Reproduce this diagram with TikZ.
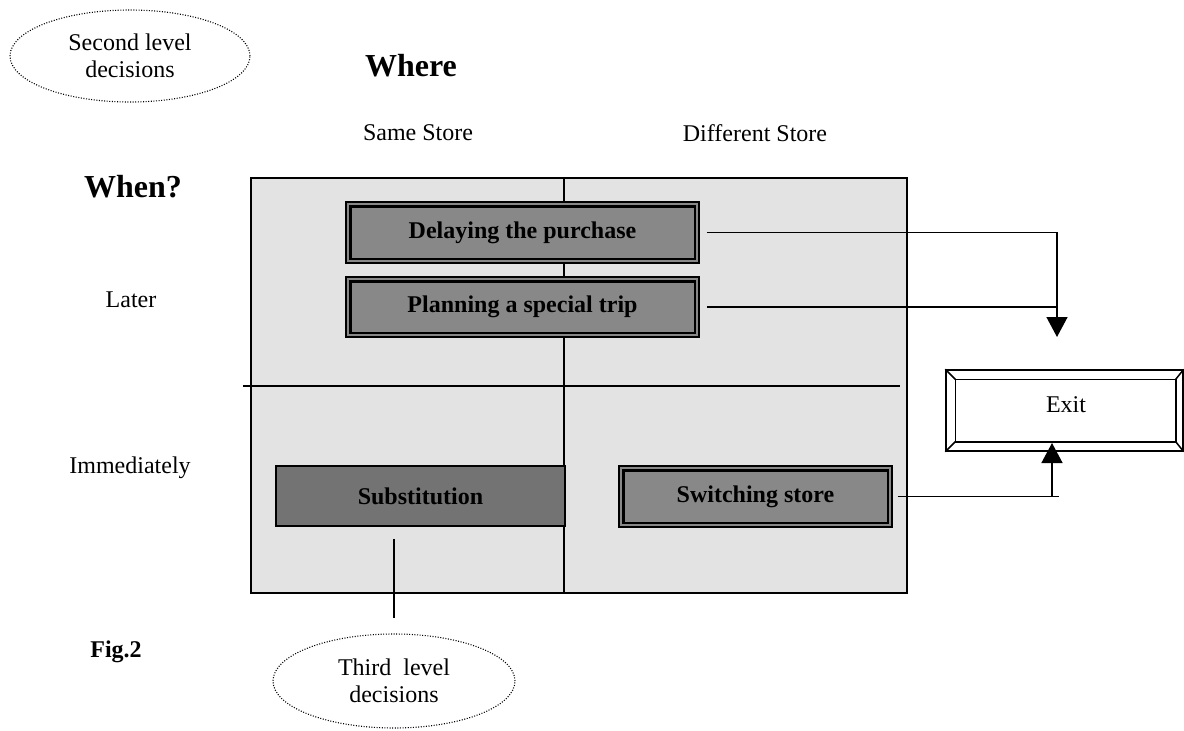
\documentclass[tikz,border=0pt]{standalone}
\usepackage{fontspec}
\setmainfont{Liberation Serif}
\usetikzlibrary{arrows.meta,shapes.geometric}
\definecolor{panelgray}{HTML}{E3E3E3}
\definecolor{boxgray}{HTML}{888888}
\definecolor{darkbox}{HTML}{737373}

\begin{document}
\begin{tikzpicture}[x=1pt,y=-1pt,
  txt/.style={font=\fontsize{24}{27}\selectfont, inner sep=0, align=center},
  title/.style={font=\fontsize{32}{36}\selectfont\bfseries, inner sep=0},
  choice/.style={draw, line width=1.5pt, inner sep=0,
    font=\fontsize{24}{27}\selectfont\bfseries},
  cloud/.style={ellipse, draw, line width=1.1pt, dash pattern=on 1pt off 1.6pt,
    inner sep=0, align=center, font=\fontsize{24}{27}\selectfont},
  link/.style={line width=1.5pt},
  tip/.style={-{Triangle[width=21pt,length=20pt]}}
]
\useasboundingbox (0,0) rectangle (1184,731);

% decision-level bubbles
\node[cloud, minimum width=240pt, minimum height=92pt] (second) at (130,56)
  {Second level\\decisions};
\node[cloud, minimum width=242pt, minimum height=94pt] (third) at (394,681)
  {Third~ level\\decisions};

% axis headings
\node[title] (where) at (411,66) {Where};
\node[title] (when) at (133,187) {When?};
\node[txt] (same) at (418,133) {Same Store};
\node[txt] (diff) at (755,133) {Different Store};
\node[txt] (later) at (131,300) {Later};
\node[txt] (immed) at (130,468) {Immediately};
\node[font=\fontsize{24}{27}\selectfont\bfseries, inner sep=0] (fig) at (116,652) {Fig.2};

% the 2x2 grid
\node[draw, line width=2pt, fill=panelgray, minimum width=656pt,
  minimum height=415pt, inner sep=0] (panel) at (578.5,385.5) {};
\draw[link] (564,178) -- (564,593);
\draw[link] (243,386) -- (900,386);

% strategy boxes
\node[choice, fill=boxgray, minimum width=353pt, minimum height=61pt]
  (delay) at (522.5,232.5) {Delaying the purchase};
\node[choice, fill=boxgray, minimum width=353pt, minimum height=60pt]
  (trip) at (522.5,307) {Planning a special trip};
\node[choice, fill=darkbox, minimum width=289pt, minimum height=60pt]
  (subst) at (420.5,496) {Substitution};
\node[choice, fill=boxgray, minimum width=273pt, minimum height=61pt]
  (switch) at (755.5,496.5) {Switching store};

% inner rule of the double-framed boxes
\foreach \b in {delay,trip,switch}{
  \draw[line width=2.5pt] ([shift={(5,5)}]\b.north west)
    rectangle ([shift={(-5,-5)}]\b.south east);
}

% bevelled exit button
\node[draw, line width=1.5pt, fill=white, minimum width=237pt, minimum height=81pt,
  inner sep=0] (exit) at (1064.5,410.5) {};
\coordinate (enw) at ([shift={(10,10)}]exit.north west);
\coordinate (ese) at ([shift={(-8,-10)}]exit.south east);
\draw[line width=1.5pt] (enw) rectangle (ese);
\draw[line width=1.5pt] (exit.north west) -- (enw);
\draw[line width=1.5pt] (exit.south west) -- (enw |- ese);
\draw[line width=1.5pt] (exit.north east) -- (ese |- enw);
\draw[line width=1.5pt] (exit.south east) -- (ese);
\node[txt] (exitlbl) at (1066,405) {Exit};

% connectors
\coordinate (later-in) at (1057,337);
\coordinate (later-join) at (1057,307);
\coordinate (now-in) at (1052,443);
\draw[link, tip, shorten <=7pt] (delay.east) -| (later-in);
\draw[link, shorten <=7pt] (trip.east) -- (later-join);
\draw[link, shorten <=5pt] (switch.east) -- ++(166,0) coordinate (now-end);
\draw[link, tip] (now-end -| now-in) -- (now-in);
\draw[line width=1.2pt, shorten <=12pt, shorten >=15pt]
  (subst.south -| third.north) -- (third.north);
\end{tikzpicture}
\end{document}
